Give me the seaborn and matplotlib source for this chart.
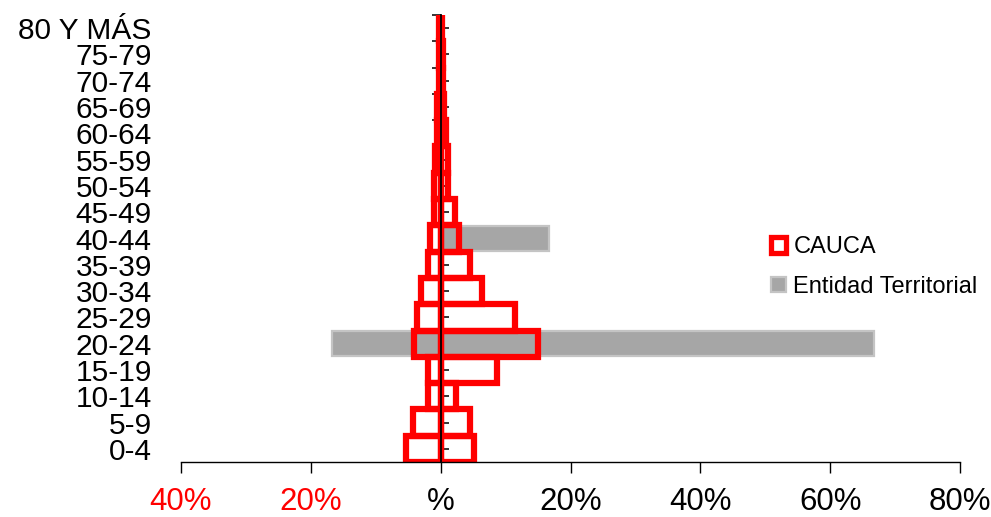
import numpy as np
import pandas as pd
import matplotlib
matplotlib.use("Agg")
import matplotlib.pyplot as plt
from matplotlib.patches import Patch
import seaborn as sns

# ---- data (percent) ----
categories = ["80 Y MÁS", "75-79", "70-74", "65-69", "60-64", "55-59", "50-54",
              "45-49", "40-44", "35-39", "30-34", "25-29", "20-24", "15-19",
              "10-14", "5-9", "0-4"]
cauca_left = [0.2, 0.2, 0.3, 0.5, 0.6, 0.8, 1.0, 1.1, 1.6, 2.0, 3.05, 3.6, 4.1,
              1.9, 1.9, 4.3, 5.35]
cauca_right = [0.2, 0.3, 0.4, 0.5, 0.85, 1.1, 1.2, 2.2, 2.9, 4.5, 6.3, 11.4, 15.0,
               8.7, 2.3, 4.5, 5.1]
entidad_left = [0, 0, 0, 0, 0, 0, 0, 0, 0, 0, 0, 0, 16.7, 0, 0, 0, 0]
entidad_right = [0, 0, 0, 0, 0, 0, 0, 0, 16.7, 0, 0, 0, 66.7, 0, 0, 0, 0]
x_ticks = [-40, -20, 0, 20, 40, 60, 80]
x_labels = ["40%", "20%", "%", "20%", "40%", "60%", "80%"]
x_label_colors = ["#FF0000", "#FF0000", "black", "black", "black", "black", "black"]
series_names = ["CAUCA", "Entidad Territorial"]

df = pd.DataFrame({
    "grupo": categories,
    "cauca_l": -np.array(cauca_left),
    "cauca_r": np.array(cauca_right),
    "ent_l": -np.array(entidad_left),
    "ent_r": np.array(entidad_right),
})

sns.set_style("white")
plt.rcParams["font.family"] = ["Liberation Sans", "DejaVu Sans"]
plt.rcParams["text.color"] = "black"

fig = plt.figure(figsize=(9.91, 5.17), dpi=100)
ax = fig.add_axes([181 / 991, 55 / 517, 779 / 991, 447 / 517])

gray = "#A6A6A6"
gray_edge = "#C4C4C4"
red = "#FF0000"
red_lw = 4.5

for col in ["ent_l", "ent_r"]:
    sns.barplot(data=df, x=col, y="grupo", orient="h", order=categories,
                color=gray, saturation=1, width=0.95, errorbar=None,
                edgecolor=gray_edge, linewidth=1.6, ax=ax, zorder=1)
n_gray = len(ax.patches)
for col in ["cauca_l", "cauca_r"]:
    sns.barplot(data=df, x=col, y="grupo", orient="h", order=categories,
                color=red, saturation=1, width=1.0, errorbar=None, fill=False,
                linewidth=red_lw, ax=ax, zorder=2)

for p in ax.patches[n_gray:]:
    p.set_edgecolor(red)
    p.set_linewidth(red_lw)
    p.set_facecolor("none")

n = len(categories)
ax.set_xlim(-40, 80)
ax.set_ylim(n - 0.5, -0.5)
ax.set_xlabel("")
ax.set_ylabel("")

# spines
for s in ["top", "right"]:
    ax.spines[s].set_visible(False)
ax.spines["left"].set_position(("data", 0))
ax.spines["left"].set_color("black")
ax.spines["left"].set_linewidth(1.3)
ax.spines["left"].set_zorder(5)
ax.spines["bottom"].set_color("black")
ax.spines["bottom"].set_linewidth(1.0)

# center axis ticks: boundaries to the left, centers to the right
ax.set_yticks(np.arange(-0.5, n, 1.0))
ax.set_yticklabels([])
ax.set_yticks(np.arange(n), minor=True)
ax.tick_params(axis="y", which="major", direction="out", length=6.5, width=1.1,
               color="black", left=True, labelleft=False)
ax.tick_params(axis="y", which="minor", direction="in", length=6, width=1.1,
               color="black", left=True, labelleft=False)

# category labels on the far left
sec = ax.secondary_yaxis(0.0)
sec.set_yticks(np.arange(n), labels=categories)
sec.tick_params(length=0, pad=21, labelsize=21.5, colors="black")
sec.spines["left"].set_visible(False)

# x axis
ax.set_xticks(x_ticks)
ax.set_xticklabels(x_labels)
ax.tick_params(axis="x", direction="out", length=7.7, width=1.0, color="black",
               pad=10, labelsize=22.5, bottom=True)
for lab, c in zip(ax.get_xticklabels(), x_label_colors):
    lab.set_color(c)

# legend
handles = [Patch(facecolor="white", edgecolor=red, linewidth=3.8),
           Patch(facecolor=gray, edgecolor=gray_edge, linewidth=1.6)]
leg = fig.legend(handles, series_names, loc="center left",
                 bbox_to_anchor=(771 / 991, 1 - 267 / 517), frameon=False,
                 fontsize=17, handlelength=0.65, handleheight=0.65,
                 handletextpad=0.3, labelspacing=0.75, borderpad=0, borderaxespad=0)
for t in leg.get_texts():
    t.set_color("black")

fig.savefig("out.png", dpi=100)
